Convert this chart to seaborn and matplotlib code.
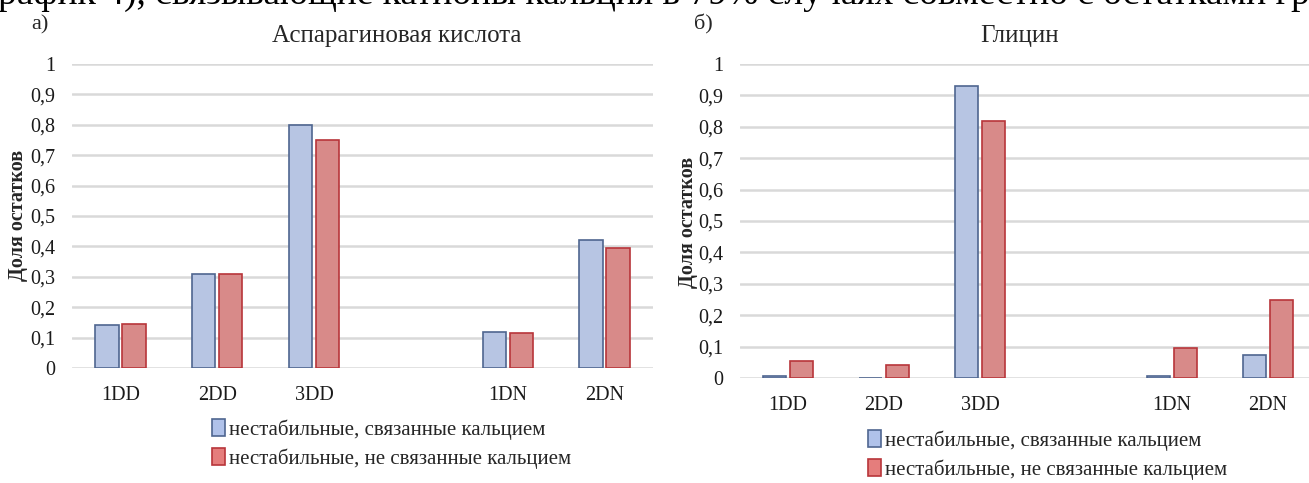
import matplotlib
matplotlib.use("Agg")
import matplotlib.pyplot as plt
from matplotlib.patches import Patch
import pandas as pd
import seaborn as sns

# Residue groups; the blank entry leaves an empty slot between the DD and DN groups
categories = ["1DD", "2DD", "3DD", " ", "1DN", "2DN"]
groups = ["1DD", "2DD", "3DD", "1DN", "2DN"]

series_names = ["нестабильные, связанные кальцием",
                "нестабильные, не связанные кальцием"]

asp_bound = [0.14, 0.31, 0.80, 0.12, 0.42]
asp_unbound = [0.145, 0.31, 0.75, 0.115, 0.395]

gly_bound = [0.007, 0.0, 0.93, 0.007, 0.072]
gly_unbound = [0.055, 0.04, 0.82, 0.095, 0.25]

ytick_values = [0, 0.1, 0.2, 0.3, 0.4, 0.5, 0.6, 0.7, 0.8, 0.9, 1.0]
ytick_labels = ["0", "0,1", "0,2", "0,3", "0,4", "0,5", "0,6", "0,7", "0,8", "0,9", "1"]

fill_colors = ["#B0C2EA", "#E57D7C"]
edge_colors = ["#4F6690", "#B8353A"]

sns.set_theme(style="white")
plt.rcParams["font.family"] = ["Liberation Serif", "DejaVu Serif"]

SERIF = ["Liberation Serif", "DejaVu Serif"]


def frame(bound, unbound):
    return pd.DataFrame({
        "group": groups * 2,
        "value": list(bound) + list(unbound),
        "series": [series_names[0]] * len(groups) + [series_names[1]] * len(groups),
    })


fig = plt.figure(figsize=(13.09, 4.83), dpi=100)
W, H = 1309, 483


def px_axes(x0, x1, y_top, y_bottom):
    return fig.add_axes([x0 / W, 1 - y_bottom / H, (x1 - x0) / W, (y_bottom - y_top) / H])


ax_a = px_axes(72, 653, 64, 368)
ax_b = px_axes(740, 1316, 64, 378)


def draw_panel(ax, bound, unbound):
    sns.barplot(data=frame(bound, unbound), x="group", y="value", hue="series",
                order=categories, hue_order=series_names, palette=fill_colors,
                width=0.56, gap=0.14, linewidth=1.2, legend=False, ax=ax,
                errorbar=None)
    for cont, ec in zip(ax.containers, edge_colors):
        for bar in cont:
            bar.set_edgecolor(ec)
            bar.set_linewidth(1.2)
    ax.set_ylim(0, 1.0)
    ax.set_xlim(-0.5, len(categories) - 0.5)
    ax.set_yticks(ytick_values)
    ax.set_yticklabels(ytick_labels, fontsize=14.5, color="#1a1a1a")
    ax.set_xticks(range(len(categories)))
    ax.set_xticklabels(categories, fontsize=14.5, color="#1a1a1a")
    ax.tick_params(axis="y", length=0, pad=12)
    ax.tick_params(axis="x", length=0, pad=13)
    ax.yaxis.grid(True, color="#D9D9D9", linewidth=1.8)
    ax.set_axisbelow(True)
    for s in ax.spines.values():
        s.set_visible(False)
    ax.set_xlabel("")
    ax.set_ylabel("")
    ax.patch.set_alpha(0)


draw_panel(ax_a, asp_bound, asp_unbound)
draw_panel(ax_b, gly_bound, gly_unbound)

# Running text line of the surrounding page, mostly cut off by the top edge
fig.text(-2 / W, 1 - 4 / H,
         "рафик 4), связывающие катионы кальция в 79% случаях совместно с остатками гр",
         fontsize=27, family=SERIF, ha="left", va="baseline", color="black")

# Panel letters and titles
fig.text(40 / W, 1 - 25 / H, "а)", fontsize=16, family=SERIF, ha="center", va="center")
fig.text(703 / W, 1 - 24 / H, "б)", fontsize=16, family=SERIF, ha="center", va="center")
fig.text(397 / W, 1 - 36 / H, "Аспарагиновая кислота", fontsize=18, family=SERIF,
         ha="center", va="center", color="#262626")
fig.text(1020 / W, 1 - 36 / H, "Глицин", fontsize=18, family=SERIF,
         ha="center", va="center", color="#262626")

# Y-axis titles
fig.text(18 / W, 1 - 215 / H, "Доля остатков", fontsize=14.5, family=SERIF, weight="bold",
         rotation=90, ha="center", va="center")
fig.text(688 / W, 1 - 222 / H, "Доля остатков", fontsize=14.5, family=SERIF, weight="bold",
         rotation=90, ha="center", va="center")

# Legends under each panel
handles = [Patch(facecolor=fc, edgecolor=ec, linewidth=1.2)
           for fc, ec in zip(fill_colors, edge_colors)]
for anchor in [(212 / W, 1 - 419 / H), (868 / W, 1 - 430 / H)]:
    fig.legend(handles, series_names, loc="upper left", bbox_to_anchor=anchor,
               bbox_transform=fig.transFigure, frameon=False, fontsize=15,
               handlelength=0.6, handleheight=0.9, handletextpad=0.2,
               labelspacing=0.4, borderaxespad=0, borderpad=0)

fig.savefig("out.png", dpi=100)
